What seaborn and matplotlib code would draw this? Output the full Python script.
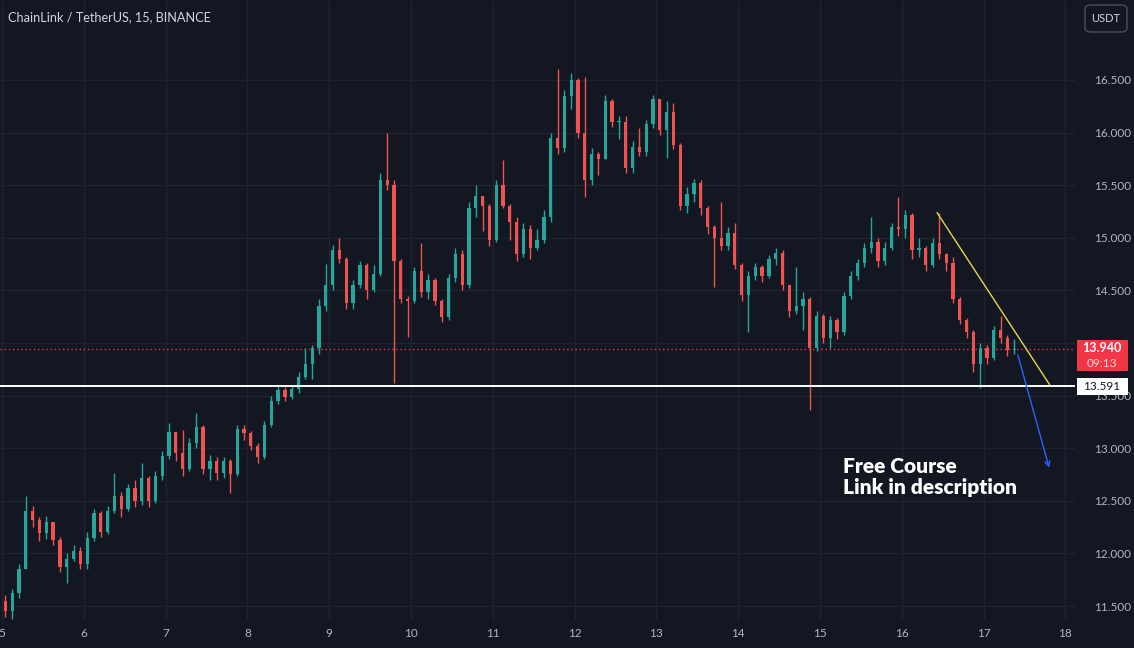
import numpy as np
import pandas as pd
import matplotlib
matplotlib.use("Agg")
import matplotlib.pyplot as plt
from matplotlib.patches import Rectangle, FancyBboxPatch
import seaborn as sns

# ---------------- data (2-hour candles) ----------------
start_day = 5.0417
candle_step = 1 / 12  # 2 hours in days
first_open = 11.55
closes = [11.45, 11.62, 11.85, 12.40, 12.32, 12.19, 12.30, 12.13, 11.87, 11.95,
          12.02, 11.90, 12.15, 12.38, 12.20, 12.40, 12.55, 12.42, 12.62, 12.50,
          12.72, 12.50, 12.74, 12.93, 13.15, 12.95, 12.80, 13.05, 13.20, 12.80,
          12.88, 12.76, 12.88, 12.75, 13.18, 13.14, 13.02, 12.92, 13.22, 13.45,
          13.55, 13.49, 13.56, 13.68, 13.80, 13.95, 14.35, 14.55, 14.88, 14.80,
          14.38, 14.55, 14.74, 14.50, 14.66, 15.55, 15.50, 14.78, 14.42, 14.40,
          14.68, 14.48, 14.60, 14.40, 14.25, 14.62, 14.85, 14.55, 15.28, 15.40,
          15.30, 14.98, 15.50, 15.30, 15.15, 14.85, 15.08, 14.90, 14.98, 15.20,
          15.95, 15.85, 16.35, 16.50, 16.00, 15.55, 15.80, 15.75, 16.30, 16.10,
          16.10, 15.66, 15.86, 15.82, 16.08, 16.32, 16.02, 16.20, 15.88, 15.30,
          15.42, 15.52, 15.28, 15.10, 15.00, 14.92, 15.05, 14.74, 14.46, 14.64,
          14.72, 14.64, 14.80, 14.86, 14.55, 14.30, 14.35, 14.42, 13.95, 14.26,
          14.05, 14.22, 14.10, 14.45, 14.64, 14.76, 14.90, 14.96, 14.78, 14.90,
          15.10, 15.08, 15.22, 14.88, 14.90, 14.74, 14.95, 14.85, 14.76, 14.42,
          14.22, 14.10, 13.80, 13.95, 13.86, 14.12, 14.05, 13.93, 13.94]
highs = [11.60, 11.66, 11.90, 12.55, 12.45, 12.35, 12.36, 12.30, 12.16, 12.00,
         12.08, 12.06, 12.20, 12.42, 12.40, 12.45, 12.76, 12.58, 12.66, 12.70,
         12.86, 12.74, 12.78, 12.97, 13.24, 13.15, 13.17, 13.10, 13.33, 13.22,
         12.94, 12.92, 12.92, 12.90, 13.22, 13.22, 13.16, 13.05, 13.26, 13.50,
         13.60, 13.58, 13.60, 13.72, 13.95, 13.98, 14.42, 14.75, 14.93, 15.00,
         14.82, 14.60, 14.78, 14.76, 14.74, 15.62, 16.00, 15.55, 14.80, 14.45,
         14.72, 14.95, 14.66, 14.62, 14.42, 14.66, 14.90, 14.88, 15.34, 15.50,
         15.40, 15.32, 15.55, 15.74, 15.32, 15.20, 15.14, 15.12, 15.08, 15.26,
         16.00, 16.60, 16.40, 16.57, 16.52, 16.53, 15.85, 15.82, 16.36, 16.32,
         16.16, 16.16, 15.92, 16.04, 16.12, 16.36, 16.32, 16.30, 16.28, 15.90,
         15.48, 15.56, 15.55, 15.30, 15.12, 15.34, 15.10, 15.14, 14.76, 14.68,
         14.76, 14.74, 14.84, 14.90, 14.88, 14.55, 14.72, 14.48, 14.44, 14.30,
         14.28, 14.26, 14.24, 14.48, 14.68, 14.80, 14.95, 15.20, 15.00, 14.96,
         15.14, 15.39, 15.26, 15.24, 15.00, 14.92, 15.00, 15.24, 14.86, 14.82,
         14.44, 14.24, 14.12, 14.00, 13.98, 14.16, 14.26, 14.08, 14.04]
lows = [11.40, 11.38, 11.58, 11.85, 12.25, 12.12, 12.14, 12.08, 11.82, 11.72,
        11.93, 11.85, 11.85, 12.12, 12.16, 12.18, 12.38, 12.35, 12.40, 12.44,
        12.46, 12.44, 12.48, 12.70, 12.90, 12.88, 12.74, 12.78, 13.00, 12.75,
        12.70, 12.70, 12.72, 12.57, 12.74, 13.08, 12.98, 12.86, 12.90, 13.20,
        13.42, 13.45, 13.47, 13.52, 13.66, 13.66, 13.90, 14.30, 14.50, 14.76,
        14.32, 14.32, 14.52, 14.42, 14.48, 14.64, 15.45, 13.62, 14.38, 14.06,
        14.38, 14.44, 14.42, 14.36, 14.20, 14.22, 14.58, 14.50, 14.52, 15.20,
        15.06, 14.92, 14.96, 15.28, 14.98, 14.78, 14.82, 14.80, 14.88, 14.95,
        15.15, 15.80, 15.82, 16.22, 15.95, 15.39, 15.50, 15.60, 15.75, 16.05,
        15.94, 15.62, 15.62, 15.78, 15.78, 16.04, 15.98, 15.76, 15.84, 15.26,
        15.24, 15.34, 15.22, 15.04, 14.53, 14.88, 14.88, 14.70, 14.40, 14.10,
        14.60, 14.58, 14.62, 14.74, 14.50, 14.25, 14.28, 14.12, 13.36, 13.92,
        14.00, 13.95, 14.04, 14.08, 14.42, 14.60, 14.72, 14.86, 14.72, 14.74,
        14.88, 15.02, 15.00, 14.80, 14.82, 14.68, 14.72, 14.80, 14.68, 14.38,
        14.18, 14.05, 13.72, 13.57, 13.80, 13.84, 14.00, 13.88, 13.90]

last_price = 13.94
support_level = 13.591
trend_days = [16.43, 17.81]
trend_prices = [15.24, 13.60]
arrow_days = [17.41, 17.81]
arrow_prices = [13.91, 12.79]
price_ticks = [11.5, 12.0, 12.5, 13.0, 13.5, 14.0, 14.5, 15.0, 15.5, 16.0, 16.5]
price_tick_labels = ["11.500", "12.000", "12.500", "13.000", "13.500", "",
                     "14.500", "15.000", "15.500", "16.000", "16.500"]
day_ticks = [5, 6, 7, 8, 9, 10, 11, 12, 13, 14, 15, 16, 17, 18]

# ---------------- styling ----------------
BG = "#131722"
GRID = "#1f2330"
TXT = "#b2b5be"
UP = "#26a69a"
DOWN = "#ef5350"

sns.set_style("dark", rc={"axes.facecolor": BG, "figure.facecolor": BG,
                          "axes.edgecolor": BG, "grid.color": GRID})
plt.rcParams["font.family"] = ["Lato", "DejaVu Sans"]

W, H = 1134, 648
fig = plt.figure(figsize=(W / 100, H / 100), dpi=100, facecolor=BG)
ax = fig.add_axes([0, 28 / H, 1075 / W, 620 / H])
ax.set_facecolor(BG)

n = len(closes)
days = start_day + candle_step * np.arange(n)
opens = [first_open] + closes[:-1]
df = pd.DataFrame({"day": days, "open": opens, "high": highs, "low": lows, "close": closes})
df["up"] = df["close"] >= df["open"]
df["color"] = np.where(df["up"], UP, DOWN)
df["body_lo"] = df[["open", "close"]].min(axis=1)
df["body_h"] = (df["close"] - df["open"]).abs().clip(lower=0.012)

# grid
for d in day_ticks:
    ax.axvline(d, color=GRID, lw=1, zorder=0)
for p in price_ticks:
    ax.axhline(p, color=GRID, lw=1, zorder=0)

# candles
ax.vlines(df["day"], df["low"], df["high"], colors=df["color"], lw=1, zorder=3)
ax.bar(df["day"], df["body_h"], bottom=df["body_lo"], width=0.04,
       color=df["color"], edgecolor=df["color"], linewidth=0, zorder=4)

# support line and last price line
ax.axhline(support_level, color="white", lw=1.4, zorder=5)
ax.axhline(last_price, color="#f23645", lw=1, ls=(0, (1, 2)), zorder=2)

# trend line (seaborn)
tl = pd.DataFrame({"day": trend_days, "price": trend_prices})
sns.lineplot(data=tl, x="day", y="price", ax=ax, color="#e6d54a", lw=1, zorder=6)

# blue arrow
ax.annotate("", xy=(arrow_days[1], arrow_prices[1]), xytext=(arrow_days[0], arrow_prices[0]),
            arrowprops=dict(arrowstyle="->", color="#2962ff", lw=1, mutation_scale=9), zorder=6)

ax.text(15.28, 12.725, "Free Course\nLink in description", color="white", fontsize=15,
        fontweight="heavy", ha="left", va="center", linespacing=1.1, zorder=7)

ax.set_xlim(4.9756, 18.117)
ax.set_ylim(11.367, 17.26)
ax.set_xlabel("")
ax.set_ylabel("")
ax.set_xticks(day_ticks)
ax.set_xticklabels([str(d) for d in day_ticks])
ax.set_yticks(price_ticks)
ax.set_yticklabels(price_tick_labels)
ax.yaxis.tick_right()
ax.tick_params(axis="y", length=0, pad=14, labelsize=8.5, labelcolor=TXT)
ax.tick_params(axis="x", length=0, pad=6, labelsize=8.5, labelcolor=TXT)
ax.grid(False)
for s in ax.spines.values():
    s.set_visible(False)

# title
fig.text(8 / W, 1 - 17 / H, "ChainLink / TetherUS, 15, BINANCE", color="#d1d4dc",
         fontsize=9.2, ha="left", va="center")

# USDT button
fig.patches.append(FancyBboxPatch((1085 / W, 1 - 32 / H), 42 / W, 27 / H,
                                  boxstyle="round,pad=0,rounding_size=0.006",
                                  transform=fig.transFigure, facecolor=BG,
                                  edgecolor="#434651", lw=1.2))
fig.text(1106 / W, 1 - 18 / H, "USDT", color="#d1d4dc", fontsize=8, ha="center", va="center")

# price boxes
fig.patches.append(Rectangle((1077 / W, 1 - 371 / H), 51 / W, 31 / H,
                             transform=fig.transFigure, facecolor="#f23645", edgecolor="none"))
fig.text(1102 / W, 1 - 348 / H, f"{last_price:.3f}", color="white", fontsize=9,
         fontweight="bold", ha="center", va="center")
fig.text(1102 / W, 1 - 363 / H, "09:13", color="#ffd6d9", fontsize=8.5, ha="center", va="center")

fig.patches.append(Rectangle((1077 / W, 1 - 395 / H), 51 / W, 17 / H,
                             transform=fig.transFigure, facecolor="white", edgecolor="none"))
fig.text(1102 / W, 1 - 386.5 / H, f"{support_level:.3f}", color="#131722", fontsize=8.5,
         ha="center", va="center")

fig.savefig("out.png", dpi=100, facecolor=BG)
